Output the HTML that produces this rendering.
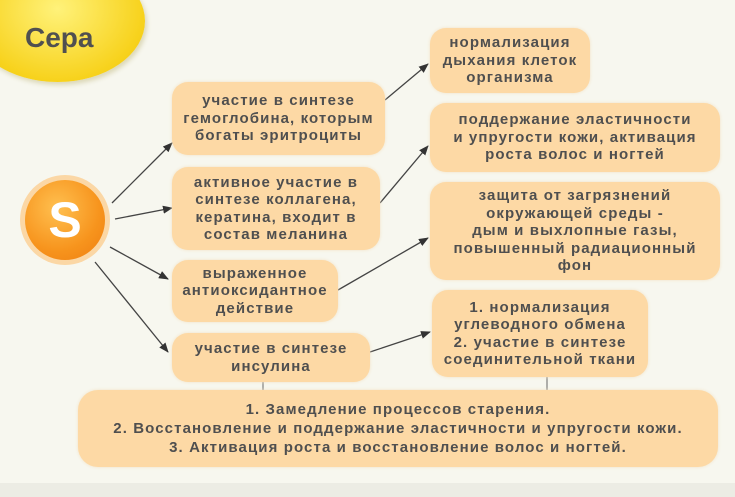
<!DOCTYPE html>
<html><head><meta charset="utf-8"><style>
body{margin:0;width:735px;height:497px;overflow:hidden;background:#f7f7ef;font-family:"Liberation Sans","DejaVu Sans",sans-serif;position:relative}
.b{position:absolute;background:#fdd9a5;border-radius:16px;color:#4f4f4f;font-weight:bold;font-size:15px;letter-spacing:1.1px;line-height:17.5px;text-align:center;display:flex;align-items:center;justify-content:center;box-shadow:0 0 3px #f3e2c4;white-space:nowrap}
</style></head><body>
<div style="position:absolute;left:0;top:483px;width:735px;height:14px;background:#ecece4"></div>
<div style="position:absolute;left:-30px;top:-40px;width:175px;height:122px;border-radius:50%;background:radial-gradient(ellipse at 50% 40%,#fff27a,#f7d21c 70%,#eebd10);box-shadow:2px 3px 5px #dcd8b8"></div>
<div style="position:absolute;left:25px;top:22px;font-size:28px;font-weight:bold;color:#505050">Сера</div>
<div style="position:absolute;left:20px;top:175px;width:90px;height:90px;border-radius:50%;background:#fbd7a5"></div>
<div style="position:absolute;left:25px;top:180px;width:80px;height:80px;border-radius:50%;background:radial-gradient(circle at 40% 35%,#ffc050,#f7941d 60%,#ee7d10);color:#fff;font-weight:bold;font-size:50px;text-align:center;line-height:80px">S</div>
<svg width="735" height="497" style="position:absolute;left:0;top:0">
<defs><marker id="a" markerWidth="10" markerHeight="8" refX="9" refY="4" orient="auto" markerUnits="userSpaceOnUse"><path d="M0,0 L10,4 L0,8 Z" fill="#333"/></marker></defs>
<g stroke="#444" stroke-width="1.3" fill="none" marker-end="url(#a)">
<line x1="112" y1="203" x2="172" y2="143"/>
<line x1="115" y1="219" x2="172" y2="208"/>
<line x1="110" y1="247" x2="168" y2="279"/>
<line x1="95" y1="262" x2="168" y2="352"/>
<line x1="385" y1="100" x2="428" y2="64"/>
<line x1="380" y1="203" x2="428" y2="146"/>
<line x1="338" y1="290" x2="428" y2="238"/>
<line x1="370" y1="352" x2="430" y2="332"/>
</g>
<g stroke="#666" stroke-width="1"><line x1="263" y1="382" x2="263" y2="392"/><line x1="547" y1="377" x2="547" y2="392"/></g>
</svg>
<div class="b" style="left:172px;top:82px;width:213px;height:73px">участие в синтезе<br>гемоглобина, которым<br>богаты эритроциты</div>
<div class="b" style="left:172px;top:167px;width:208px;height:83px">активное участие в<br>синтезе коллагена,<br>кератина, входит в<br>состав меланина</div>
<div class="b" style="left:172px;top:260px;width:166px;height:62px">выраженное<br>антиоксидантное<br>действие</div>
<div class="b" style="left:172px;top:333px;width:198px;height:49px">участие в синтезе<br>инсулина</div>
<div class="b" style="left:430px;top:28px;width:160px;height:65px">нормализация<br>дыхания клеток<br>организма</div>
<div class="b" style="left:430px;top:103px;width:290px;height:69px">поддержание эластичности<br>и упругости кожи, активация<br>роста волос и ногтей</div>
<div class="b" style="left:430px;top:182px;width:290px;height:98px">защита от загрязнений<br>окружающей среды -<br>дым и выхлопные газы,<br>повышенный радиационный<br>фон</div>
<div class="b" style="left:432px;top:290px;width:216px;height:87px">1. нормализация<br>углеводного обмена<br>2. участие в синтезе<br>соединительной ткани</div>
<div class="b" style="left:78px;top:390px;width:640px;height:77px;border-radius:20px;line-height:19px">1. Замедление процессов старения.<br>2. Восстановление и поддержание эластичности и упругости кожи.<br>3. Активация роста и восстановление волос и ногтей.</div>
</body></html>
